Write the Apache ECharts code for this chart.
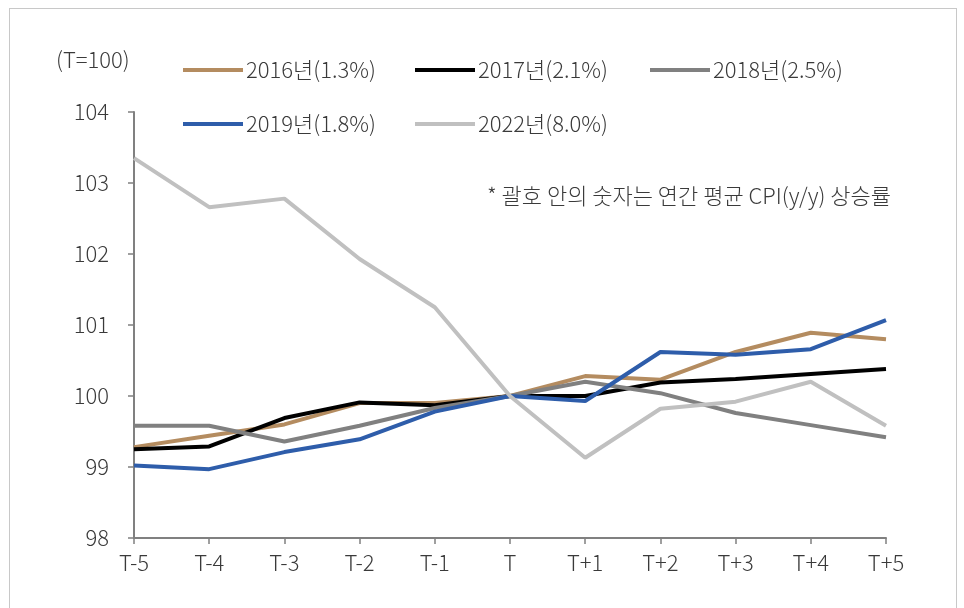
<!DOCTYPE html>
<html>
<head>
<meta charset="utf-8">
<script src="https://cdn.jsdelivr.net/npm/echarts@6/dist/echarts.min.js"></script>
<style>
  html, body { margin: 0; padding: 0; background: #fff; }
  #frame {
    position: absolute; left: 9px; top: 8px; width: 948px; height: 620px;
    border: 1px solid #c8c8c8; box-sizing: border-box;
  }
  #chart { position: absolute; left: 0; top: 0; width: 964px; height: 608px; }
</style>
</head>
<body>
<div id="frame"></div>
<div id="chart"></div>
<script>
const categories = ['T-5', 'T-4', 'T-3', 'T-2', 'T-1', 'T', 'T+1', 'T+2', 'T+3', 'T+4', 'T+5'];

const names = ['2016년(1.3%)', '2017년(2.1%)', '2018년(2.5%)', '2019년(1.8%)', '2022년(8.0%)'];

const data2016 = [99.28, 99.44, 99.6, 99.9, 99.9, 100, 100.28, 100.23, 100.62, 100.89, 100.8];
const data2017 = [99.25, 99.29, 99.69, 99.91, 99.87, 100, 100.0, 100.19, 100.24, 100.31, 100.38];
const data2018 = [99.58, 99.58, 99.36, 99.58, 99.83, 100, 100.2, 100.04, 99.76, 99.59, 99.42];
const data2019 = [99.02, 98.97, 99.21, 99.39, 99.78, 100, 99.93, 100.62, 100.58, 100.66, 101.07];
const data2022 = [103.35, 102.66, 102.78, 101.93, 101.25, 100, 99.13, 99.82, 99.92, 100.2, 99.58];

const colors = ['#B48C60', '#000000', '#808080', '#2E5DAA', '#C0C0C0'];
const allData = [data2016, data2017, data2018, data2019, data2022];

const font = '"Noto Sans CJK KR", "Noto Sans", sans-serif';
const textColor = '#3a3a3a';

// one legend per item so each sits where the original puts it
const legendSpots = [[178, 54], [410, 54], [645, 54], [178, 108], [410, 108]];

const chart = echarts.init(document.getElementById('chart'));

chart.setOption({
  animation: false,
  grid: { left: 134, right: 78, top: 112, bottom: 70 },
  graphic: [
    {
      type: 'text', left: 56, top: 49,
      style: { text: '(T=100)', font: '300 22px ' + font, fill: textColor }
    },
    {
      type: 'text', left: 487, top: 185,
      style: { text: '* 괄호 안의 숫자는 연간 평균 CPI(y/y) 상승률', font: '300 22px ' + font, fill: textColor }
    }
  ],
  legend: names.map((n, i) => ({
    left: legendSpots[i][0],
    top: legendSpots[i][1],
    data: [n],
    itemWidth: 60,
    itemHeight: 4,
    icon: 'rect',
    textStyle: { fontFamily: font, fontWeight: 300, fontSize: 22, color: textColor, padding: [0, 0, 0, -2] }
  })),
  xAxis: {
    type: 'category',
    data: categories,
    boundaryGap: false,
    axisLine: { lineStyle: { color: '#808080', width: 2 } },
    axisTick: { show: true, length: 6, lineStyle: { color: '#808080', width: 1.5 } },
    axisLabel: { fontFamily: font, fontWeight: 300, fontSize: 22, color: textColor, margin: 14 }
  },
  yAxis: {
    type: 'value',
    min: 98,
    max: 104,
    interval: 1,
    splitLine: { show: false },
    axisLine: { show: true, lineStyle: { color: '#808080', width: 2 } },
    axisTick: { show: true, length: 6, lineStyle: { color: '#808080', width: 1.5 } },
    axisLabel: { fontFamily: font, fontWeight: 300, fontSize: 22, color: textColor, margin: 25 }
  },
  series: names.map((n, i) => ({
    name: n,
    type: 'line',
    data: allData[i],
    symbol: 'none',
    color: colors[i],
    lineStyle: { width: 4, color: colors[i] }
  }))
});
</script>
</body>
</html>
